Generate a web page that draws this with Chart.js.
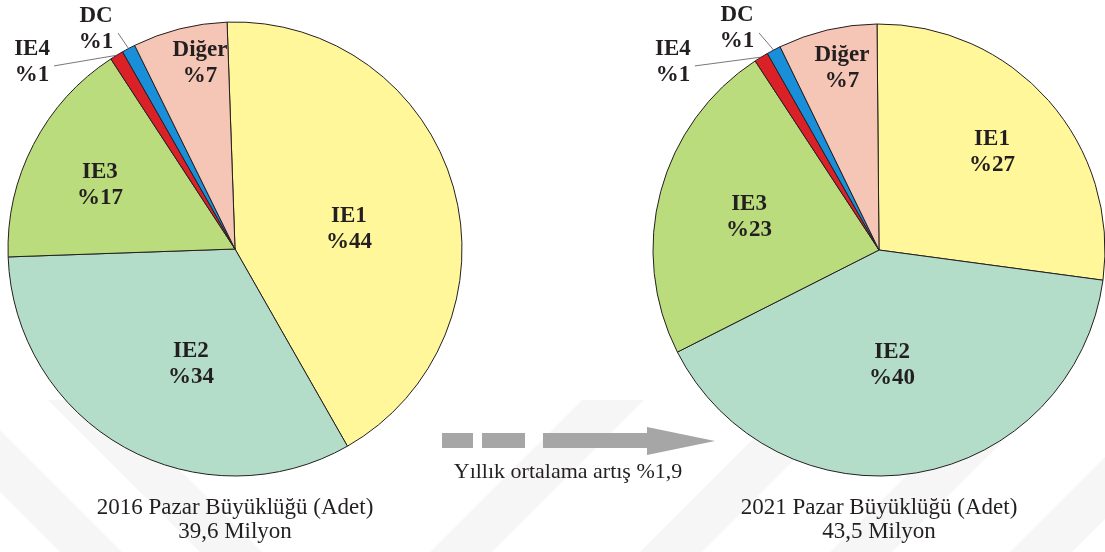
<!DOCTYPE html>
<html lang="tr">
<head>
<meta charset="utf-8">
<title>Pazar Büyüklüğü 2016 – 2021</title>
<script src="https://cdn.jsdelivr.net/npm/chart.js@4.4.1/dist/chart.umd.min.js"></script>
<style>
  html, body { margin: 0; padding: 0; background: #ffffff; overflow: hidden; }
  #stage { position: relative; width: 1105px; height: 552px; }
  #stage canvas { position: absolute; left: 0; top: 0; }
</style>
</head>
<body>
<div id="stage">
  <canvas id="pie2016" width="1105" height="552"></canvas>
  <canvas id="pie2021" width="1105" height="552"></canvas>
</div>
<script>
// Segments and their shares (%)
const categories = ['IE1', 'IE2', 'IE3', 'IE4', 'DC', 'Diğer'];
const shares2016 = [44, 34, 17, 1, 1, 7];
const shares2021 = [27, 40, 23, 1, 1, 7];

// Captions under each pie and the growth note between them
const caption2016 = ['2016 Pazar Büyüklüğü (Adet)', '39,6 Milyon'];
const caption2021 = ['2021 Pazar Büyüklüğü (Adet)', '43,5 Milyon'];
const growthNote = 'Yıllık ortalama artış %1,9';

// Styling
const sliceColors = ['#FFF799', '#B3DDC8', '#BADC7D', '#DA2128', '#1A8FD9', '#F5C5B5'];
const SERIF = '"Liberation Serif", "Times New Roman", serif';
const LABEL_FONT = 'bold 23px ' + SERIF;
const TEXT_FONT = '23px ' + SERIF;
const NOTE_FONT = '22px ' + SERIF;
const LINE_GAP = 26;

// Label centres relative to the pie centre, in units of the radius
const labelPos2016 = [[0.502, -0.090], [-0.194, 0.509], [-0.595, -0.280], [-0.894, -0.822], [-0.612, -0.971], [-0.154, -0.819]];
const labelPos2021 = [[0.500, -0.434], [0.058, 0.507], [-0.575, -0.146], [-0.912, -0.830], [-0.628, -0.980], [-0.164, -0.803]];
// Slices whose labels sit outside and get a leader line
const leaderSlices = [3, 4];
const leaderStart = { 3: [22, 3.5], 4: [22, 4.5] };

Chart.defaults.font.family = SERIF;

// Draws the two-line slice labels, leader lines and the caption below the pie
const sliceLabels = {
  id: 'sliceLabels',
  afterDatasetsDraw(chart, args, opts) {
    const ctx = chart.ctx;
    const meta = chart.getDatasetMeta(0);
    const values = chart.data.datasets[0].data;
    const first = meta.data[0];
    const cx = first.x, cy = first.y, r = first.outerRadius;
    ctx.save();
    ctx.fillStyle = '#231F20';
    ctx.textAlign = 'center';
    ctx.textBaseline = 'middle';
    ctx.font = LABEL_FONT;
    meta.data.forEach((arc, i) => {
      const [fx, fy] = opts.positions[i];
      const lx = cx + fx * r, ly = cy + fy * r;
      ctx.fillText(chart.data.labels[i], lx, ly - LINE_GAP / 2);
      ctx.fillText('%' + values[i], lx, ly + LINE_GAP / 2);
      if (leaderSlices.includes(i)) {
        const mid = (arc.startAngle + arc.endAngle) / 2;
        const ex = cx + Math.cos(mid) * r, ey = cy + Math.sin(mid) * r;
        const [sx, sy] = leaderStart[i];
        ctx.save();
        ctx.strokeStyle = '#555555';
        ctx.lineWidth = 0.8;
        ctx.beginPath();
        ctx.moveTo(lx + sx, ly + sy);
        ctx.lineTo(ex, ey);
        ctx.stroke();
        ctx.restore();
      }
    });
    ctx.font = TEXT_FONT;
    ctx.fillText(opts.caption[0], cx, opts.captionY);
    ctx.fillText(opts.caption[1], cx, opts.captionY + 24);
    ctx.restore();
  }
};

// Faint diagonal background stripes in the lower part of the page
const backdrop = {
  id: 'backdrop',
  beforeDraw(chart) {
    const ctx = chart.ctx;
    ctx.save();
    ctx.fillStyle = 'rgba(0,0,0,0.035)';
    const top = 400, bottom = 552, w = 62, h = bottom - top;
    [60, 200].forEach(x0 => {            // leaning "\" bands
      ctx.beginPath();
      ctx.moveTo(x0 - h, top); ctx.lineTo(x0 - h + w, top);
      ctx.lineTo(x0 + w, bottom); ctx.lineTo(x0, bottom);
      ctx.closePath(); ctx.fill();
    });
    [430, 640, 830, 1010].forEach(x0 => { // leaning "/" bands
      ctx.beginPath();
      ctx.moveTo(x0 + h, top); ctx.lineTo(x0 + h + w, top);
      ctx.lineTo(x0 + w, bottom); ctx.lineTo(x0, bottom);
      ctx.closePath(); ctx.fill();
    });
    ctx.restore();
  }
};

// Grey dashed arrow with the growth note
const growthArrow = {
  id: 'growthArrow',
  afterDraw(chart) {
    const ctx = chart.ctx;
    ctx.save();
    ctx.fillStyle = '#A6A6A6';
    ctx.fillRect(442, 433, 31, 15);
    ctx.fillRect(482, 433, 43, 15);
    ctx.fillRect(543, 433, 105, 15);
    ctx.beginPath();
    ctx.moveTo(647, 427); ctx.lineTo(715, 441); ctx.lineTo(647, 455);
    ctx.closePath(); ctx.fill();
    ctx.fillStyle = '#231F20';
    ctx.font = NOTE_FONT;
    ctx.textAlign = 'center';
    ctx.textBaseline = 'middle';
    ctx.fillText(growthNote, 568, 472);
    ctx.restore();
  }
};

function makePie(id, values, radius, padding, rotation, positions, caption, captionY, extra) {
  return new Chart(document.getElementById(id), {
    type: 'pie',
    data: {
      labels: categories,
      datasets: [{
        data: values,
        backgroundColor: sliceColors,
        borderColor: '#231F20',
        borderWidth: 1,
        radius: radius
      }]
    },
    options: {
      responsive: false,
      devicePixelRatio: 1,
      animation: false,
      rotation: rotation,
      layout: { padding: padding },
      events: [],
      plugins: {
        legend: { display: false },
        tooltip: { enabled: false },
        sliceLabels: { positions: positions, caption: caption, captionY: captionY }
      }
    },
    plugins: [sliceLabels].concat(extra)
  });
}

makePie('pie2016', shares2016, 227, { left: 0, right: 635, top: 0, bottom: 54 }, -2,
        labelPos2016, caption2016, 508, [backdrop]);
makePie('pie2021', shares2021, 226, { left: 653, right: 0, top: 0, bottom: 52 }, -0.5,
        labelPos2021, caption2021, 508, [growthArrow]);
</script>
</body>
</html>
